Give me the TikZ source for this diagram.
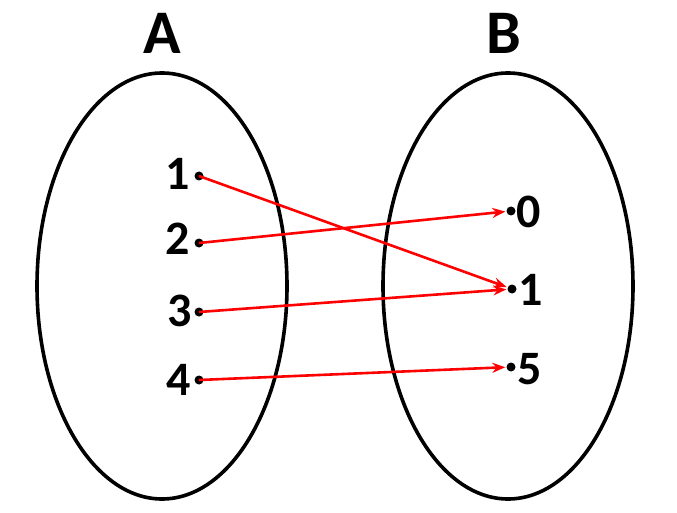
\documentclass[tikz,border=0pt]{standalone}
\usepackage{fontspec}
\setmainfont{Carlito}
\usetikzlibrary{arrows.meta}
\begin{document}
\begin{tikzpicture}[x=1pt,y=-1pt,
  setbox/.style={draw=black,line width=3.6pt},
  dotpt/.style={circle,fill=black,inner sep=0pt,minimum size=9pt},
  setlabel/.style={font=\fontsize{62}{62}\selectfont\bfseries},
  elemlabel/.style={font=\fontsize{48}{48}\selectfont\bfseries},
  maparrow/.style={draw=red,line width=2.6pt,-{Stealth[length=13pt,width=10pt]},shorten >=1pt}]
\useasboundingbox (0,0) rectangle (677,513);
\draw[setbox] (162,286) ellipse [x radius=125,y radius=213];
\draw[setbox] (508,286) ellipse [x radius=125,y radius=213];
\node[setlabel] (A) at (162,33) {A};
\node[setlabel] (B) at (504,33) {B};
\node[dotpt] (a1) at (199,176) {};
\node[dotpt] (a2) at (199,243) {};
\node[dotpt] (a3) at (199,312) {};
\node[dotpt] (a4) at (199,380) {};
\node[dotpt] (b0) at (511,211) {};
\node[dotpt] (b1) at (512,289) {};
\node[dotpt] (b5) at (511,367) {};
\node[elemlabel] (la1) at (178,174) {1};
\node[elemlabel] (la2) at (178,239) {2};
\node[elemlabel] (la3) at (180,311) {3};
\node[elemlabel] (la4) at (179,380) {4};
\node[elemlabel] (lb0) at (529,212) {0};
\node[elemlabel] (lb1) at (531,290) {1};
\node[elemlabel] (lb5) at (530,369) {5};
\draw[maparrow] (a1.center) -- (b1);
\draw[maparrow] (a2.center) -- (b0);
\draw[maparrow] (a3.center) -- (b1);
\draw[maparrow] (a4.center) -- (b5);
\end{tikzpicture}
\end{document}
